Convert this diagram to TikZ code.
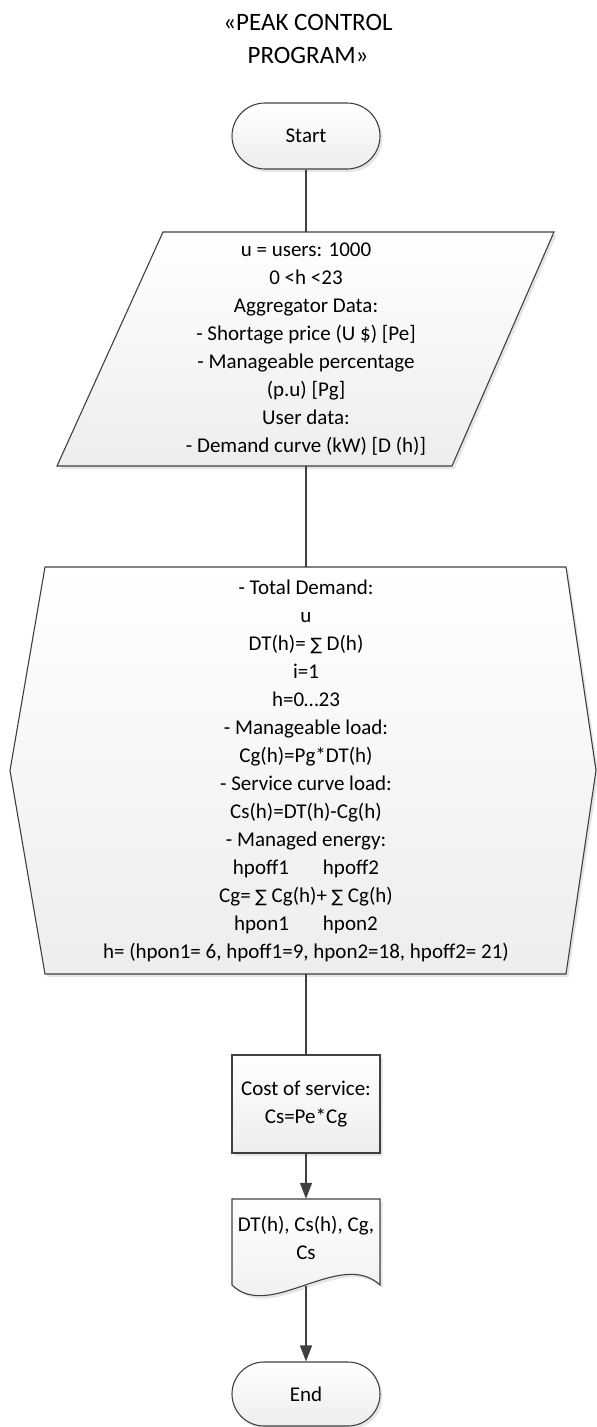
\documentclass[tikz,border=0pt]{standalone}
\usepackage{fontspec}
\setmainfont{Carlito}
\newfontfamily\symf{DejaVu Sans}
\usetikzlibrary{arrows.meta,shadows}
\newcommand{\sumsym}{{\symf\fontsize{17}{28}\selectfont ∑}}
\begin{document}
\begin{tikzpicture}[x=1pt,y=-1pt,
  shp/.style={draw=black!75,line width=1.1pt,top color=white,bottom color=black!7,
    drop shadow={shadow xshift=2.5pt,shadow yshift=-3pt,fill=black!12,opacity=0.8}},
  txt/.style={font=\fontsize{21}{28}\selectfont,align=center,inner sep=0pt,text=black},
  term/.style={shp,txt,rounded corners=32pt,minimum width=148pt,minimum height=64pt},
  procbox/.style={shp,txt,minimum width=148pt,minimum height=98pt},
  ghost/.style={txt,minimum width=148pt},
  flow/.style={draw=black!75,line width=1.1pt},
  arr/.style={flow,-{Triangle[length=16pt,width=12pt]}}]
\useasboundingbox (0,0) rectangle (597,1427);

% title
\node[txt,font=\fontsize{25}{33}\selectfont] (title) at (308,38.5) {«PEAK CONTROL\\PROGRAM»};

% start
\node[term,minimum height=66pt,rounded corners=33pt] (start) at (306,136) {Start};

% input parallelogram
\path[shp] (163,232) -- (554,232) -- (452,466) -- (57,466) -- cycle;
\node[ghost,minimum height=234pt] (para) at (306,349) {u = users: 1000\\0 <h <23\\Aggregator Data:\\- Shortage price (U \$) [Pe]\\- Manageable percentage\\(p.u) [Pg]\\User data:\\- Demand curve (kW) [D (h)]};

% preparation hexagon
\path[shp] (45,567) -- (566,567) -- (596,770.5) -- (566,974) -- (45,974) -- (10,770.5) -- cycle;
\node[ghost,minimum height=407pt] (hex) at (306,770.5) {- Total Demand:\\u\\DT(h)= \sumsym{} D(h)\\i=1\\h=0…23\\- Manageable load:\\Cg(h)=Pg*DT(h)\\- Service curve load:\\Cs(h)=DT(h)-Cg(h)\\- Managed energy:\\hpoff1\hspace{34pt}hpoff2\\Cg= \sumsym{} Cg(h)+ \sumsym{} Cg(h)\\hpon1\hspace{34pt}hpon2\\h= (hpon1= 6, hpoff1=9, hpon2=18, hpoff2= 21)};

% process
\node[procbox] (proc) at (306,1104) {Cost of service:\\Cs=Pe*Cg};

% document
\path[shp] (232,1199) -- (380,1199) -- (380,1285) .. controls (340,1248) and (270,1322) .. (232,1285) -- cycle;
\node[ghost,minimum height=78pt] (doc) at (306,1238) {DT(h), Cs(h), Cg,\\Cs};
\coordinate (docb) at (306,1286);

% end
\node[term] (end) at (306,1394) {End};

% connectors
\draw[flow] (start.south) -- (para.north);
\draw[flow] (para.south) -- (hex.north);
\draw[flow] (hex.south) -- (proc.north);
\draw[arr] (proc.south) -- (doc.north);
\draw[arr] (docb) -- (end.north);
\end{tikzpicture}
\end{document}
